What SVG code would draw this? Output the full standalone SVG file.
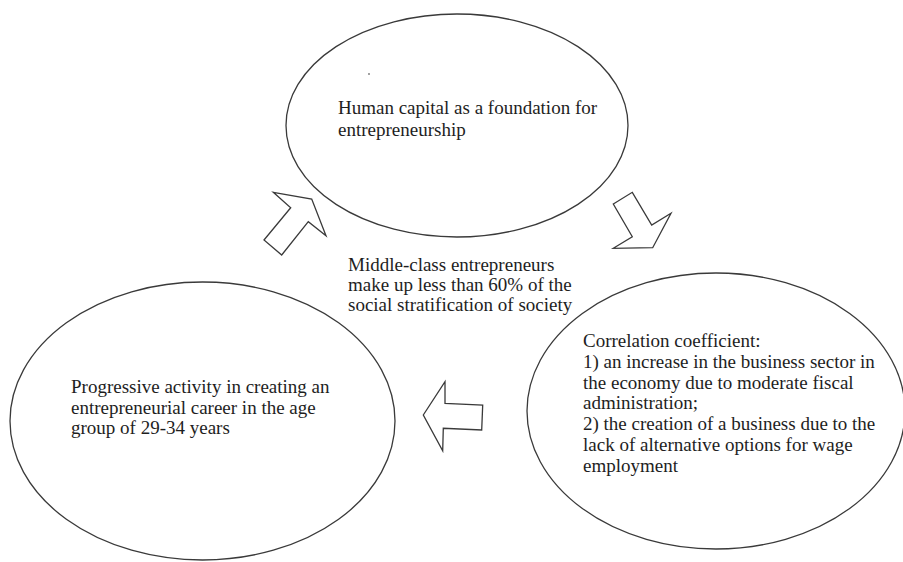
<svg xmlns="http://www.w3.org/2000/svg" width="903" height="562" viewBox="0 0 903 562">
<style>
.shape{fill:#ffffff;stroke:#3a3a3a;stroke-width:1.3}
.arrow{fill:#ffffff;stroke:#3a3a3a;stroke-width:1.3;stroke-linejoin:miter}
.t{font-family:"Liberation Serif","Times New Roman",serif;font-size:19px;fill:#1e1e1e}
</style>
<rect width="903" height="562" fill="#ffffff"/>
<g id="node-human-capital">
<ellipse class="shape" cx="457" cy="125.5" rx="171" ry="111.5"/>
<circle cx="369" cy="74" r="0.9" fill="#777"/>
<text class="t" x="338" y="114">Human capital as a foundation for</text>
<text class="t" x="338" y="135.5">entrepreneurship</text>
</g>
<g id="node-center">
<text class="t" x="348" y="270.5">Middle-class entrepreneurs</text>
<text class="t" x="348" y="290.5">make up less than 60% of the</text>
<text class="t" x="348" y="310.5">social stratification of society</text>
</g>
<g id="node-correlation">
<ellipse class="shape" cx="716" cy="411" rx="189" ry="138"/>
<text class="t" x="583" y="346.5">Correlation coefficient:</text>
<text class="t" x="583" y="367.5">1) an increase in the business sector in</text>
<text class="t" x="583" y="388.5">the economy due to moderate fiscal</text>
<text class="t" x="583" y="409">administration;</text>
<text class="t" x="583" y="430">2) the creation of a business due to the</text>
<text class="t" x="583" y="451">lack of alternative options for wage</text>
<text class="t" x="583" y="472">employment</text>
</g>
<g id="node-progressive">
<ellipse class="shape" cx="202.5" cy="421" rx="192.5" ry="139"/>
<text class="t" x="71" y="392.5">Progressive activity in creating an</text>
<text class="t" x="71" y="413.5">entrepreneurial career in the age</text>
<text class="t" x="71" y="434">group of 29-34 years</text>
</g>
<g id="connectors">
<polygon class="arrow" points="613.3,204 632.3,192.3 651.7,225 671,213.3 652.7,247.7 613.3,248.3 632.3,236.7"/>
<polygon class="arrow" points="423.3,415 445,381.7 445,403.3 482.7,405 481.7,430 443.3,428.3 442.7,450.7"/>
<polygon class="arrow" points="273.3,192.3 311.7,199 326,235.7 308.3,221.7 281.7,255 264,240 290.7,207.7"/>
</g>
</svg>
